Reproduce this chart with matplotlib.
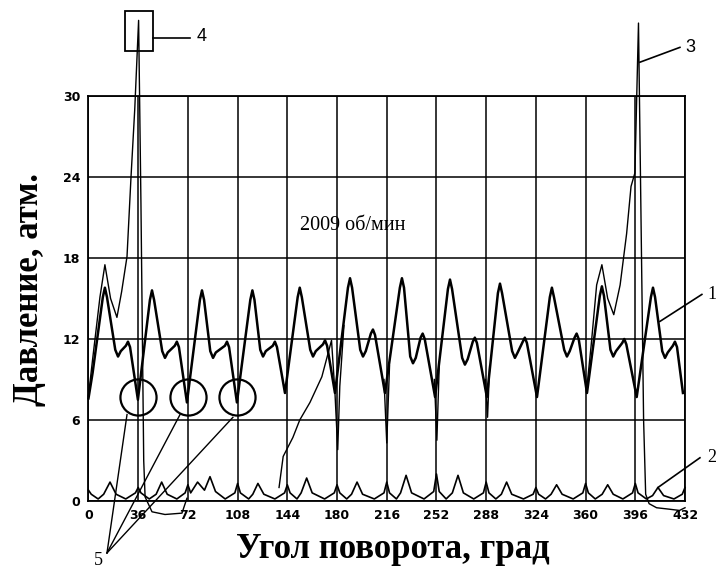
import numpy as np
import matplotlib.pyplot as plt
from matplotlib.patches import Rectangle

nan = np.nan

# axis ticks
x_ticks = [0, 36, 72, 108, 144, 180, 216, 252, 288, 324, 360, 396, 432]
y_ticks = [0, 6, 12, 18, 24, 30]

# curve 1 - main pressure trace
angle_1 = [0, 3,
           10.4, 11.9, 13.4, 19.4, 21.4, 23.4, 27.1, 28.6, 30.1, 35.8,
           44.5, 46, 47.5, 53.4, 55.4, 57.4, 62.5, 64, 65.5, 71.3,
           80.7, 82.2, 83.7, 88.2, 90.2, 92.2, 98.8, 100.3, 101.8, 107.5,
           117.2, 118.7, 120.2, 124.4, 126.4, 128.4, 133.5, 135, 136.5, 142.3,
           151.5, 153, 154.5, 160.6, 162.6, 164.6, 169.8, 171.3, 172.8, 178.5,
           187.9, 189.4, 190.9, 196.8, 198.8, 200.8, 204.5, 206, 207.5, 214.7,
           225.5, 227, 228.5, 233, 235, 237, 240.5, 242, 243.5, 251,
           260.3, 261.8, 263.3, 270.6, 272.6, 274.6, 278.3, 279.8, 281.3, 288.5,
           296.5, 298, 299.5, 306.8, 308.8, 310.8, 314.5, 316, 317.5, 324.8,
           334.1, 335.6, 337.1, 344.5, 346.5, 348.5, 352, 353.5, 355, 361,
           370.3, 371.8, 373.3, 378, 380, 382, 386.5, 388, 389.5, 397,
           407.3, 408.8, 410.3, 415.5, 417.5, 419.5, 423.2, 424.7, 426.2, 430.5]
press_1 = [7.6, 9.5,
           15.1, 15.8, 15.1, 11.2, 10.7, 11.1, 11.5, 11.8, 11.4, 7.5,
           14.9, 15.6, 14.9, 11.1, 10.6, 11.0, 11.5, 11.8, 11.4, 7.3,
           14.9, 15.6, 14.9, 11.1, 10.6, 11.0, 11.5, 11.8, 11.4, 7.3,
           14.9, 15.6, 14.9, 11.2, 10.7, 11.1, 11.5, 11.8, 11.4, 8.0,
           15.1, 15.8, 15.1, 11.2, 10.7, 11.1, 11.6, 11.9, 11.5, 8.0,
           15.8, 16.5, 15.8, 11.2, 10.7, 11.1, 12.4, 12.7, 12.3, 8.0,
           15.8, 16.5, 15.8, 10.7, 10.2, 10.6, 12.1, 12.4, 12.0, 7.7,
           15.7, 16.4, 15.7, 10.6, 10.1, 10.5, 11.8, 12.1, 11.7, 7.7,
           15.4, 16.1, 15.4, 11.1, 10.6, 11.0, 11.8, 12.1, 11.7, 7.7,
           15.1, 15.8, 15.1, 11.2, 10.7, 11.1, 12.1, 12.4, 12.0, 8.0,
           15.2, 15.9, 15.2, 11.2, 10.7, 11.1, 11.7, 12.0, 11.6, 7.7,
           15.1, 15.8, 15.1, 11.1, 10.6, 11.0, 11.5, 11.8, 11.4, 8.0]

# curve 2 - low pressure trace
angle_2 = [0, 2, 7, 11, 15.6, 20, 27, 34,
           36, 38, 44, 49, 53, 57, 64, 70,
           72, 74, 79, 84, 88, 92, 99, 106,
           108, 110, 116, 119, 122.7, 127, 135, 142,
           144, 146, 151, 154, 158, 162, 171, 178,
           180, 182, 187, 190.5, 194.5, 198.5, 207, 214,
           216, 218, 223, 226, 230, 234, 243, 250,
           252, 254, 259, 263.5, 267.6, 271.5, 279, 286,
           288, 290, 295, 299, 302.8, 306.5, 315, 322,
           324, 326, 331, 335, 339, 343, 351, 358,
           360, 362, 367, 372, 376, 380, 387, 394,
           396, 398, 404, 408.5, 412.4, 416.5, 424, 430, 432]
press_2 = [0.8, 0.5, 0.15, 0.5, 1.4, 0.5, 0.15, 0.6,
           1.0, 0.6, 0.15, 0.5, 1.4, 0.5, 0.15, 0.6,
           1.2, 0.6, 1.4, 0.8, 1.8, 0.7, 0.15, 0.6,
           1.3, 0.6, 0.15, 0.5, 1.3, 0.5, 0.15, 0.6,
           1.2, 0.6, 0.15, 0.6, 1.7, 0.6, 0.15, 0.6,
           1.2, 0.6, 0.15, 0.5, 1.4, 0.5, 0.15, 0.6,
           1.4, 0.6, 0.15, 0.6, 1.9, 0.6, 0.15, 0.7,
           2.0, 0.7, 0.15, 0.6, 1.9, 0.6, 0.15, 0.6,
           1.4, 0.6, 0.15, 0.5, 1.4, 0.5, 0.15, 0.5,
           1.0, 0.5, 0.15, 0.5, 1.2, 0.5, 0.15, 0.6,
           1.3, 0.6, 0.15, 0.5, 1.2, 0.5, 0.15, 0.6,
           1.3, 0.6, 0.15, 0.4, 1.0, 0.4, 0.15, 0.5, 1.0]

# curve 3 - second trace with the spikes (pieces split by nan)
angle_3 = [0, 3, 8.3, 11.9, 16, 20.6, 24, 27.9, 30.8, 33.5, 36.3, 38, 40, 41,
           46, 55.4, 67.7, 71.3, nan,
           138, 141, 148, 153, 160.4, 169, 176, 178.5, 180.5, 182, 185, nan,
           214, 216, 218, nan,
           250.5, 252.3, 254, nan,
           287.5, 289, 290.5, nan,
           359, 361, 364, 368, 371.8, 376, 380.4, 385, 389.7, 392.9, 395.7,
           398.3, 400, 402, 403.5, 406, 411.4, 420, 428, 432]
press_3 = [7.8, 10.5, 15.1, 17.5, 15.0, 13.6, 15.5, 18.1, 24, 29, 35.6, 22, 3, 0.3,
           -0.8, -1.0, -0.9, 0.2, nan,
           1.0, 3.3, 4.7, 6.0, 7.3, 9.2, 11.9, 8.0, 3.8, 8.5, 13, nan,
           9, 4.3, 10, nan,
           9, 4.5, 10, nan,
           9, 6.2, 10, nan,
           9.5, 8.5, 11.5, 16, 17.5, 15, 13.8, 16, 19.8, 23.3, 24.3,
           35.4, 22, 6, 0.5, -0.2, -0.5, -0.6, -0.7, -0.5]

# circled dips (label 5)
circle_x = [35.8, 72.0, 107.5]
circle_y = [7.7, 7.7, 7.7]

# number labels: text position and leader line (x0, y0, x1, y1)
labels = ['1', '2', '3', '4']
label_pos = [(451.4, 15.3), (451.4, 3.2), (435.5, 33.6), (82.2, 34.4)]
label_lines = [(413.8, 13.3, 444.2, 15.3), (412.4, 1.0, 442.8, 3.2),
               (399.3, 32.5, 428.3, 33.6), (46.7, 34.3, 73.5, 34.3)]
label_fonts = ['Liberation Serif', 'Liberation Serif', 'Liberation Sans', 'Liberation Sans']
five_pos = (6.9, -4.4)
five_from = (13.4, -3.85)
five_to = [(27.9, 6.4), (66.3, 6.4), (104.6, 6.2)]

fig = plt.figure(figsize=(7.17, 5.74), dpi=100)
ax = fig.add_axes([0.1234, 0.1272, 0.832, 0.7056])

ax.plot(angle_1, press_1, color='k', lw=1.8, clip_on=False, zorder=4)
ax.plot(angle_2, press_2, color='k', lw=1.2, clip_on=False, zorder=4)
ax.plot(angle_3, press_3, color='k', lw=1.0, clip_on=False, zorder=4)

ax.plot(circle_x, circle_y, 'o', mfc='none', mec='k', ms=26, mew=1.6,
        clip_on=False, zorder=5)

ax.set_xlim(0, 432)
ax.set_ylim(0, 30)
ax.set_xticks(x_ticks)
ax.set_yticks(y_ticks)
ax.grid(True, color='k', lw=1.1)
ax.tick_params(length=0, pad=6)
for lab in ax.get_xticklabels() + ax.get_yticklabels():
    lab.set_fontweight('bold')
    lab.set_fontsize(9)
for sp in ax.spines.values():
    sp.set_linewidth(1.3)

ax.text(153.2, 20.4, '2009 об/мин', family='Liberation Serif', fontsize=14.5,
        va='center', ha='left')

# numbered leader lines
for lab, pos, ln, fam in zip(labels, label_pos, label_lines, label_fonts):
    ax.plot([ln[0], ln[2]], [ln[1], ln[3]], color='k', lw=1.2, clip_on=False)
    ax.text(pos[0], pos[1], lab, family=fam, fontsize=13, ha='center', va='center')
ax.add_patch(Rectangle((26.4, 33.3), 20.3, 3.0, fill=False, ec='k', lw=1.3,
                       clip_on=False))
for tx, ty in five_to:
    ax.plot([five_from[0], tx], [five_from[1], ty], color='k', lw=1.0, clip_on=False)
ax.text(five_pos[0], five_pos[1], '5', family='Liberation Serif', fontsize=13,
        ha='center', va='center')

fig.text(30 / 717, 1 - 290 / 574, 'Давление, атм.', family='Liberation Serif',
         fontweight='bold', fontsize=25, rotation=90, ha='center', va='center')
fig.text(393 / 717, 1 - 550 / 574, 'Угол поворота, град', family='Liberation Serif',
         fontweight='bold', fontsize=25, ha='center', va='center')

fig.savefig('out.png', dpi=100)
